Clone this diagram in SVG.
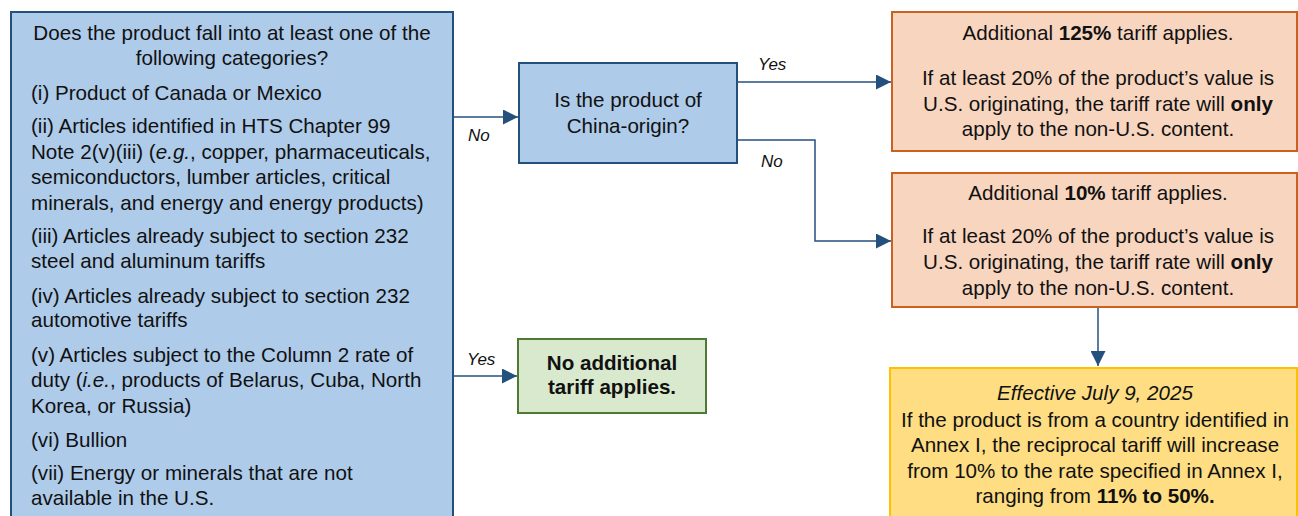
<svg xmlns="http://www.w3.org/2000/svg" width="1298" height="516" viewBox="0 0 1298 516">
<style>
text{font-family:"Liberation Sans",Arial,sans-serif;font-size:20.6px;fill:#111}
.c{text-anchor:middle}
.b{font-weight:bold}
.i{font-style:italic}
.lbl{font-size:17px;font-style:italic}
.blue{fill:#AECBEA;stroke:#24507E;stroke-width:2}
.org{fill:#F8D5BF;stroke:#C8621E;stroke-width:2}
.yel{fill:#FEDD83;stroke:#FFC000;stroke-width:2}
.grn{fill:#D8E9CD;stroke:#4E7A35;stroke-width:2}
.ln{fill:none;stroke:#24507E;stroke-width:1.5}
</style>
<defs>
<marker id="ah" viewBox="0 0 10 10" refX="10" refY="5" markerWidth="17" markerHeight="15" markerUnits="userSpaceOnUse" orient="auto">
<path d="M0,0 L10,5 L0,10 z" fill="#24507E"/>
</marker>
</defs>
<g id="connectors">
<path class="ln" d="M453,117 H518" marker-end="url(#ah)"/>
<path class="ln" d="M737,82 H891" marker-end="url(#ah)"/>
<path class="ln" d="M737,140 H815 V241 H891" marker-end="url(#ah)"/>
<path class="ln" d="M453,376 H517" marker-end="url(#ah)"/>
<path class="ln" d="M1098,308 V366" marker-end="url(#ah)"/>
<text class="lbl" x="468" y="141">No</text>
<text class="lbl" x="758" y="70">Yes</text>
<text class="lbl" x="761" y="167">No</text>
<text class="lbl" x="467" y="365">Yes</text>
</g>
<g id="categories">
<rect class="blue" x="11" y="12" width="442" height="520"/>
<text class="c" x="232" y="40">Does the product fall into at least one of the</text>
<text class="c" x="232" y="65">following categories?</text>
<text x="31" y="100">(i) Product of Canada or Mexico</text>
<text x="31" y="133">(ii) Articles identified in HTS Chapter 99</text>
<text x="31" y="159">Note 2(v)(iii) (<tspan class="i">e.g.</tspan>, copper, pharmaceuticals,</text>
<text x="31" y="184">semiconductors, lumber articles, critical</text>
<text x="31" y="210">minerals, and energy and energy products)</text>
<text x="31" y="243">(iii) Articles already subject to section 232</text>
<text x="31" y="268">steel and aluminum tariffs</text>
<text x="31" y="303">(iv) Articles already subject to section 232</text>
<text x="31" y="327">automotive tariffs</text>
<text x="31" y="362">(v) Articles subject to the Column 2 rate of</text>
<text x="31" y="387">duty (<tspan class="i">i.e.</tspan>, products of Belarus, Cuba, North</text>
<text x="31" y="413">Korea, or Russia)</text>
<text x="31" y="447">(vi) Bullion</text>
<text x="31" y="480">(vii) Energy or minerals that are not</text>
<text x="31" y="505">available in the U.S.</text>
</g>
<g id="china">
<rect class="blue" x="519" y="63" width="218" height="100"/>
<text class="c" x="628" y="107">Is the product of</text>
<text class="c" x="628" y="133">China-origin?</text>
</g>
<g id="none">
<rect class="grn" x="518" y="339" width="188" height="74"/>
<text class="c b" x="612" y="370">No additional</text>
<text class="c b" x="612" y="394">tariff applies.</text>
</g>
<g id="t125">
<rect class="org" x="892" y="12" width="405" height="139"/>
<text class="c" x="1098" y="40">Additional <tspan class="b">125%</tspan> tariff applies.</text>
<text class="c" x="1098" y="85">If at least 20% of the product’s value is</text>
<text class="c" x="1098" y="111">U.S. originating, the tariff rate will <tspan class="b">only</tspan></text>
<text class="c" x="1098" y="136">apply to the non-U.S. content.</text>
</g>
<g id="t10">
<rect class="org" x="892" y="173" width="405" height="134"/>
<text class="c" x="1098" y="200">Additional <tspan class="b">10%</tspan> tariff applies.</text>
<text class="c" x="1098" y="243">If at least 20% of the product’s value is</text>
<text class="c" x="1098" y="269">U.S. originating, the tariff rate will <tspan class="b">only</tspan></text>
<text class="c" x="1098" y="295">apply to the non-U.S. content.</text>
</g>
<g id="annex">
<rect class="yel" x="890" y="368" width="407" height="160"/>
<text class="c i" x="1095" y="400">Effective July 9, 2025</text>
<text class="c" x="1095" y="427">If the product is from a country identified in</text>
<text class="c" x="1095" y="452">Annex I, the reciprocal tariff will increase</text>
<text class="c" x="1095" y="478">from 10% to the rate specified in Annex I,</text>
<text class="c" x="1095" y="503">ranging from <tspan class="b">11% to 50%.</tspan></text>
</g>
</svg>
